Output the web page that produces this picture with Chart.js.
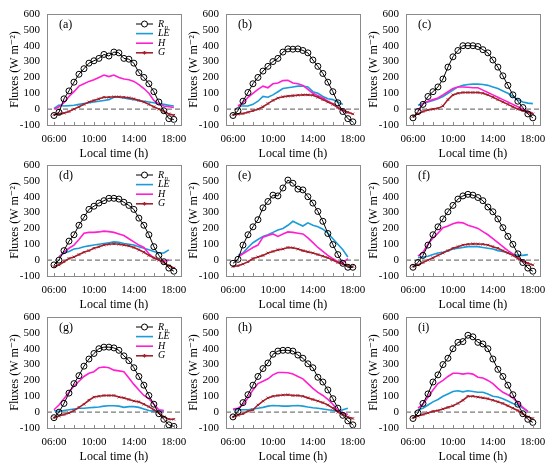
<!DOCTYPE html>
<html>
<head>
<meta charset="utf-8">
<script src="https://cdn.jsdelivr.net/npm/chart.js@4.4.0/dist/chart.umd.min.js"></script>
<style>
  body { margin: 0; background: #fff; }
  #wrap { position: relative; width: 550px; height: 470px; overflow: hidden; }
  #wrap canvas { position: absolute; }
</style>
</head>
<body>
<div id="wrap"></div>
<script>
// half-hourly local time (h)
const hours = [6, 6.5, 7, 7.5, 8, 8.5, 9, 9.5, 10, 10.5, 11, 11.5, 12, 12.5, 13, 13.5, 14, 14.5, 15, 15.5, 16, 16.5, 17, 17.5, 18];
const xTicks = [6, 10, 14, 18];
const yTicks = [-100, 0, 100, 200, 300, 400, 500, 600];
const panelTags = ['(a)', '(b)', '(c)', '(d)', '(e)', '(f)', '(g)', '(h)', '(i)'];

// W m-2
const rnA = [-40, -20, 65, 115, 170, 220, 255, 290, 305, 320, 345, 335, 360, 355, 320, 315, 290, 230, 200, 160, 110, 45, -10, -60, -65];
const leA = [5, 25, 20, 22, 25, 30, 35, 40, 45, 50, 55, 60, 75, 75, 70, 65, 60, 55, 50, 45, 40, 35, 30, 25, 20];
const hA  = [0, 15, 40, 80, 110, 145, 160, 175, 185, 200, 215, 205, 215, 200, 190, 185, 175, 155, 130, 100, 55, 30, 20, 15, 10];
const gA  = [-35, -30, -25, -15, 0, 15, 30, 45, 55, 65, 75, 75, 78, 78, 75, 72, 65, 55, 45, 30, 15, 0, -15, -30, -38];

const rnB = [-40, -10, 50, 105, 160, 200, 240, 270, 300, 320, 360, 380, 378, 380, 370, 355, 310, 270, 225, 170, 110, 40, -15, -60, -80];
const leB = [null, 20, 20, 20, 30, 50, 80, 75, 90, 110, 130, 135, 140, 145, 145, 140, 110, 100, 80, 65, 60, 45, 30, null, null];
const hB  = [null, 20, 40, 75, 100, 125, 145, 135, 160, 165, 180, 182, 165, 160, 150, 125, 100, 85, 70, 50, 35, 10, -10, -25, null];
const gB  = [-35, -32, -28, -20, -10, 0, 15, 35, 55, 70, 78, 82, 85, 88, 90, 90, 88, 75, 60, 45, 30, 10, -5, -20, -30];

const rnC = [-55, -15, 30, 80, 110, 140, 190, 265, 330, 370, 400, 400, 400, 395, 375, 355, 310, 265, 210, 150, 90, 50, 10, -30, -55];
const leC = [null, 25, 35, 45, 55, 65, 80, 100, 120, 140, 150, 155, 158, 158, 155, 150, 140, 130, 115, 100, 80, 60, 45, 38, 35];
const hC  = [null, -10, 35, 50, 60, 70, 90, 110, 130, 140, 140, 138, 135, 135, 120, 105, 90, 75, 60, 45, 30, 15, 0, -15, -25];
const gC  = [-45, -30, -15, -5, 0, 5, 20, 60, 90, 100, 105, 105, 105, 105, 100, 90, 75, 60, 45, 30, 15, 0, -10, -20, -30];

const rnD = [-30, 0, 60, 120, 160, 220, 270, 320, 340, 360, 375, 390, 390, 385, 365, 345, 320, 265, 220, 160, 85, 30, -10, -50, -70];
const leD = [null, 20, 45, 55, 70, 75, 85, 90, 95, 100, 105, 110, 115, 112, 105, 100, 95, 85, 75, 65, 55, 45, 45, 65, null];
const hD  = [null, 20, 50, 75, 95, 130, 170, 175, 175, 178, 183, 180, 175, 165, 155, 135, 115, 95, 80, 40, 15, 0, -5, 0, null];
const gD  = [-40, -30, -10, 10, 20, 35, 50, 60, 75, 85, 95, 100, 103, 100, 95, 90, 80, 65, 50, 30, 15, 0, -15, -35, -50];

const rnE = [-20, 5, 95, 160, 210, 255, 330, 370, 410, 405, 455, 505, 485, 448, 443, 400, 360, 307, 245, 168, 98, 35, -20, -45, -45];
const leE = [null, 30, 45, 80, 110, 130, 150, 160, 175, 190, 200, 220, 245, 230, 215, 235, 220, 210, 195, 170, 135, 100, 65, 20, null];
const hE  = [null, 20, 40, 60, 80, 95, 145, 155, 165, 150, 165, 178, 175, 170, 165, 140, 110, 80, 55, 30, 10, -10, -15, 10, null];
const gE  = [-40, -35, -25, -10, 10, 20, 30, 45, 55, 65, 70, 80, 78, 70, 60, 52, 45, 35, 25, 15, 0, -15, -25, -35, -40];

const rnF = [-45, -15, 30, 95, 160, 210, 260, 305, 345, 385, 405, 415, 410, 395, 375, 335, 305, 260, 205, 150, 100, 40, -15, -50, -70];
const leF = [null, 15, 20, 25, 35, 45, 50, 60, 70, 75, 80, 85, 85, 85, 80, 75, 70, 60, 55, 45, 35, 30, 30, 35, null];
const hF  = [null, 25, 50, 100, 140, 170, 205, 215, 230, 238, 235, 220, 210, 200, 180, 160, 135, 110, 85, 60, 40, 15, -10, -20, null];
const gF  = [-40, -30, -15, 0, 15, 30, 45, 60, 75, 85, 95, 100, 103, 102, 100, 95, 85, 75, 60, 45, 30, 10, -5, -20, -30];

const rnG = [-35, 0, 55, 120, 180, 230, 290, 335, 370, 400, 410, 410, 405, 390, 355, 325, 280, 225, 170, 105, 50, -10, -45, -80, -90];
const leG = [10, 5, 10, 15, 20, 25, 25, 28, 30, 32, 38, 40, 40, 38, 30, 35, 35, 30, 20, 10, 5, 5, 5, null, null];
const hG  = [15, 45, 85, 125, 165, 195, 225, 245, 255, 280, 285, 280, 265, 260, 255, 215, 175, 140, 105, 85, 50, 15, 10, null, null];
const gG  = [-35, -25, -15, -5, 10, 30, 50, 75, 95, 100, 105, 105, 105, 95, 90, 80, 70, 65, 50, 35, 15, -5, -30, -45, -45];

const rnH = [-30, 5, 60, 110, 170, 225, 275, 310, 365, 385, 390, 390, 385, 360, 340, 305, 280, 220, 190, 140, 85, 25, -20, -55, -80];
const leH = [15, 15, 15, 15, 20, 25, 30, 38, 42, 40, 38, 38, 40, 42, 38, 32, 28, 25, 20, 15, 10, 5, 15, 25, null];
const hH  = [20, 25, 45, 90, 140, 180, 195, 210, 235, 250, 250, 248, 240, 225, 210, 180, 150, 125, 105, 80, 50, 10, -5, -15, null];
const gH  = [-30, -20, -10, 5, 15, 45, 70, 90, 100, 105, 108, 110, 105, 105, 100, 90, 80, 70, 60, 45, 25, 0, -15, -30, -40];

const rnI = [-40, -5, 55, 115, 190, 235, 300, 340, 400, 440, 445, 485, 475, 440, 430, 400, 335, 270, 225, 170, 110, 50, -10, -45, -65];
const leI = [null, 15, 25, 45, 65, 80, 100, 115, 130, 135, 128, 135, 130, 125, 125, 115, 100, 95, 85, 70, 55, 45, 25, 5, null];
const hI  = [null, 25, 50, 95, 140, 180, 200, 225, 245, 245, 240, 245, 240, 220, 215, 200, 180, 150, 125, 110, 90, 60, 30, 5, null];
const gI  = [-35, -25, -15, -5, 5, 10, 20, 30, 40, 55, 75, 100, 100, 95, 90, 85, 75, 65, 55, 40, 25, 10, -10, -30, -40];

const panelData = [
  [rnA, leA, hA, gA], [rnB, leB, hB, gB], [rnC, leC, hC, gC],
  [rnD, leD, hD, gD], [rnE, leE, hE, gE], [rnF, leF, hF, gF],
  [rnG, leG, hG, gG], [rnH, leH, hH, gH], [rnI, leI, hI, gI]
];

const FONT = "'Liberation Serif', 'DejaVu Serif', serif";
const colLeft = [0, 179, 359];
const rowTop = [0, 151, 303];
const RN_COL = '#000000', LE_COL = '#1a9cd8', H_COL = '#ff1fd0', G_COL = '#a3202c';

const pts = arr => hours.map((x, i) => ({x: x, y: arr[i]}));

function drawStar(ctx, x, y, r) {
  ctx.beginPath();
  for (let k = 0; k < 4; k++) {
    const a = k * Math.PI / 4;
    ctx.moveTo(x - r * Math.cos(a), y - r * Math.sin(a));
    ctx.lineTo(x + r * Math.cos(a), y + r * Math.sin(a));
  }
  ctx.stroke();
}

// box, hour ticks, panel tag and the in-plot legend
const framePlugin = {
  id: 'frame',
  afterDatasetsDraw(chart, args, opts) {
    const {ctx, chartArea: a} = chart;
    const xs = chart.scales.x;
    ctx.save();
    ctx.strokeStyle = '#8a8a8a';
    ctx.lineWidth = 1;
    ctx.strokeRect(Math.round(a.left) + 0.5, Math.round(a.top) + 0.5, Math.round(a.width), Math.round(a.height));
    for (let hr = 6; hr <= 18; hr++) {
      const px = Math.round(xs.getPixelForValue(hr)) + 0.5;
      ctx.beginPath();
      ctx.moveTo(px, a.bottom);
      ctx.lineTo(px, a.bottom - 3);
      ctx.stroke();
    }
    ctx.fillStyle = '#000';
    ctx.font = '12px ' + FONT;
    ctx.textBaseline = 'middle';
    ctx.textAlign = 'left';
    ctx.fillText(opts.tag, a.left + 12, a.top + 11);

    if (opts.legend) {
      const names = [['R', 'n'], ['LE', ''], ['H', ''], ['G', '']];
      names.forEach(([t, sub], k) => {
        const ds = chart.data.datasets[k];
        const y = a.top + 10 + k * 9.6;
        const x1 = a.left + 89, x2 = a.left + 106;
        ctx.strokeStyle = ds.borderColor;
        ctx.lineWidth = ds.borderWidth;
        ctx.beginPath();
        ctx.moveTo(x1, y);
        ctx.lineTo(x2, y);
        ctx.stroke();
        if (k === 0) {
          ctx.beginPath();
          ctx.arc((x1 + x2) / 2, y, 3, 0, Math.PI * 2);
          ctx.fillStyle = '#fff';
          ctx.fill();
          ctx.stroke();
        }
        if (k === 3) {
          ctx.lineWidth = 1;
          drawStar(ctx, (x1 + x2) / 2, y, 1.8);
        }
        ctx.fillStyle = '#000';
        ctx.font = 'italic 10px ' + FONT;
        ctx.fillText(t, x2 + 5, y);
        if (sub) {
          const w = ctx.measureText(t).width;
          ctx.font = 'italic 7px ' + FONT;
          ctx.fillText(sub, x2 + 5 + w + 0.5, y + 3);
        }
      });
    }
    ctx.restore();
  }
};

const wrap = document.getElementById('wrap');

panelData.forEach((series, idx) => {
  const [rn, le, h, g] = series;
  const r = Math.floor(idx / 3), c = idx % 3;
  const cv = document.createElement('canvas');
  cv.style.left = colLeft[c] + 'px';
  cv.style.top = rowTop[r] + 'px';
  cv.style.width = '195px';
  cv.style.height = '163px';
  cv.width = 195;
  cv.height = 163;
  wrap.appendChild(cv);

  new Chart(cv, {
    type: 'line',
    data: {
      datasets: [
        {data: pts(rn), borderColor: RN_COL, borderWidth: 1, pointStyle: 'circle', pointRadius: 3,
         pointBorderWidth: 1, pointBackgroundColor: 'rgba(255,255,255,0)', pointBorderColor: RN_COL, order: 0},
        {data: pts(le), borderColor: LE_COL, borderWidth: 1.6, pointRadius: 0, order: 3},
        {data: pts(h), borderColor: H_COL, borderWidth: 1.6, pointRadius: 0, order: 2},
        {data: pts(g), borderColor: G_COL, borderWidth: 1.6, pointStyle: 'crossRot', pointRadius: 1.8,
         pointBorderWidth: 1, pointBorderColor: G_COL, order: 1},
        {data: [{x: 5.3, y: 0}, {x: 18.7, y: 0}], borderColor: '#7a7a7a', borderWidth: 1.2,
         borderDash: [5, 3], pointRadius: 0, order: 9}
      ]
    },
    options: {
      responsive: false,
      animation: false,
      events: [],
      layout: {padding: {top: 14, right: 12, bottom: 0, left: 0}},
      plugins: {
        legend: {display: false},
        tooltip: {enabled: false},
        frame: {tag: panelTags[idx], legend: c === 0}
      },
      scales: {
        x: {
          type: 'linear',
          min: 5.3,
          max: 18.7,
          grid: {display: false, drawTicks: false},
          border: {display: false},
          afterBuildTicks: scale => { scale.ticks = xTicks.map(v => ({value: v})); },
          afterFit: scale => { scale.height = 38; },
          ticks: {
            color: '#000',
            padding: 8,
            maxRotation: 0,
            autoSkip: false,
            font: {family: FONT, size: 11},
            callback: v => String(v).padStart(2, '0') + ':00'
          },
          title: {display: true, text: 'Local time (h)', color: '#000',
                  font: {family: FONT, size: 12}, padding: {top: 0, bottom: 2}}
        },
        y: {
          min: -100,
          max: 600,
          grid: {display: false, drawTicks: false},
          border: {display: false},
          afterBuildTicks: scale => { scale.ticks = yTicks.map(v => ({value: v})); },
          afterFit: scale => { scale.width = 47; },
          ticks: {color: '#000', padding: 7, autoSkip: false, font: {family: FONT, size: 11},
                  callback: v => String(v)},
          title: {display: true, text: 'Fluxes (W m\u207B\u00B2)', color: '#000',
                  font: {family: FONT, size: 12}, padding: {top: 8, bottom: 0}}
        }
      }
    },
    plugins: [framePlugin]
  });
});
</script>
</body>
</html>
